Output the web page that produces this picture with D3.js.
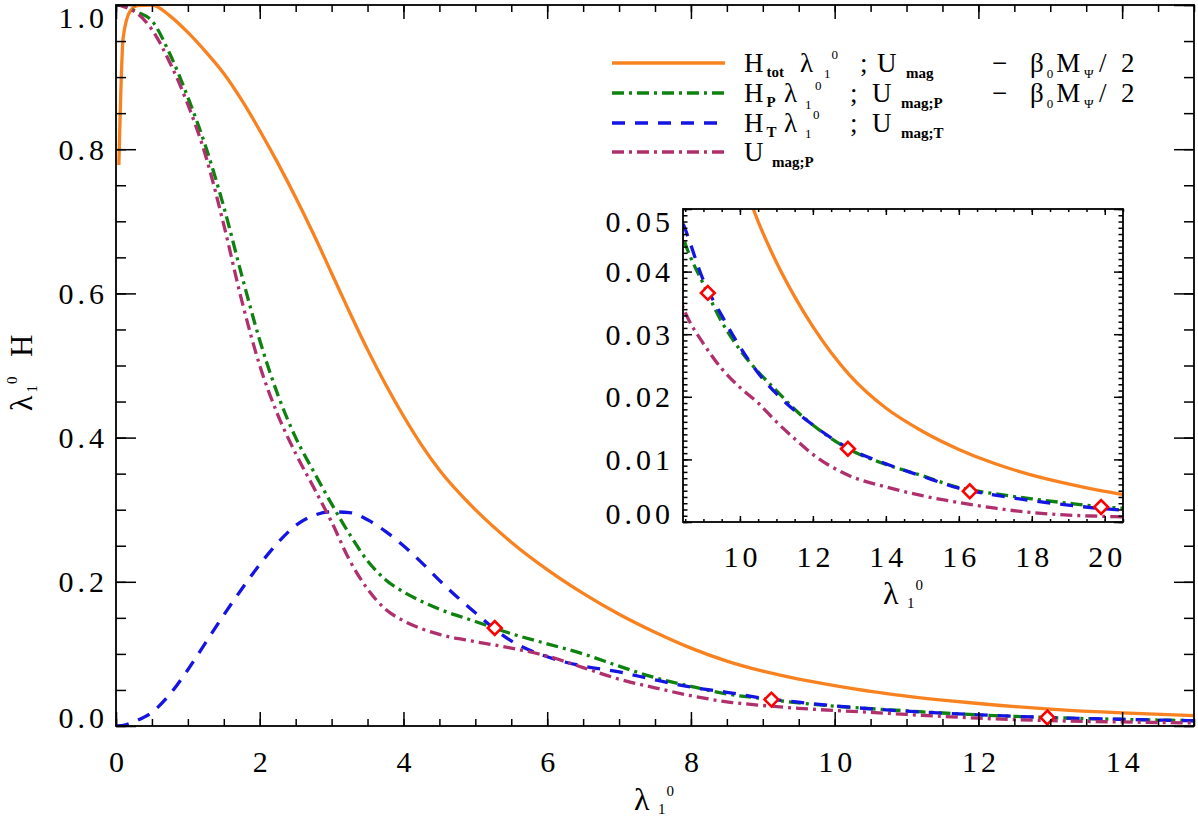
<!DOCTYPE html>
<html><head><meta charset="utf-8">
<script src="https://cdn.jsdelivr.net/npm/d3@7"></script>
<style>
body{margin:0;background:#fff;}
svg{display:block;}
text{font-family:"Liberation Serif","Times New Roman",serif;fill:#000;}
</style></head><body>
<svg id="c" width="1198" height="818"></svg>
<script>
// ---------------- data ----------------
const lambda = [0, 0.04, 0.1, 0.2, 0.3, 0.5, 0.75, 1.0, 1.25, 1.5, 1.75, 2.0, 2.25, 2.5, 2.75, 3.0, 3.25, 3.5, 3.75, 4.0, 4.25, 4.5, 5.0, 5.5, 6.0, 6.5, 7.0, 7.5, 8.0, 8.5, 9.0, 9.5, 10, 10.5, 11, 11.5, 12, 13, 14, 15, 16, 17, 18, 19, 20, 20.5];
const Htot = [null, 0.778, 0.955, 0.992, 0.999, 1.0, 0.985, 0.962, 0.935, 0.905, 0.868, 0.826, 0.781, 0.733, 0.682, 0.628, 0.574, 0.522, 0.474, 0.43, 0.39, 0.355, 0.3, 0.255, 0.217, 0.184, 0.155, 0.13, 0.108, 0.09, 0.076, 0.065, 0.056, 0.048, 0.0415, 0.036, 0.0312, 0.0235, 0.0182, 0.0145, 0.0116, 0.0093, 0.0075, 0.0061, 0.0049, 0.0044];
const HP = [1.0, 1.0, 0.999, 0.995, 0.99, 0.978, 0.932, 0.872, 0.803, 0.72, 0.625, 0.535, 0.46, 0.4, 0.353, 0.308, 0.266, 0.229, 0.203, 0.186, 0.173, 0.162, 0.145, 0.128, 0.114, 0.1, 0.083, 0.067, 0.055, 0.0445, 0.038, 0.032, 0.0275, 0.024, 0.021, 0.018, 0.0155, 0.0116, 0.0092, 0.0074, 0.0055, 0.0045, 0.0037, 0.003, 0.0024, 0.0022];
const HT = [0, 0.0003, 0.001, 0.004, 0.008, 0.019, 0.044, 0.078, 0.116, 0.154, 0.19, 0.224, 0.254, 0.278, 0.292, 0.297, 0.296, 0.286, 0.27, 0.25, 0.227, 0.202, 0.157, 0.118, 0.096, 0.083, 0.075, 0.064, 0.054, 0.0468, 0.0386, 0.033, 0.028, 0.0238, 0.0205, 0.0178, 0.0155, 0.0117, 0.0093, 0.0073, 0.0054, 0.0043, 0.0034, 0.0027, 0.0021, 0.0019];
const UmagP = [1.0, 1.0, 0.998, 0.994, 0.988, 0.966, 0.92, 0.862, 0.79, 0.695, 0.59, 0.5, 0.432, 0.378, 0.331, 0.283, 0.23, 0.19, 0.162, 0.146, 0.135, 0.127, 0.117, 0.108, 0.097, 0.081, 0.065, 0.053, 0.042, 0.0335, 0.0285, 0.0245, 0.0215, 0.019, 0.016, 0.0133, 0.0108, 0.0074, 0.0056, 0.0042, 0.0031, 0.0022, 0.0015, 0.0011, 0.0009, 0.0008];
const markLambda = [5.27, 9.12, 12.96, 16.3, 19.9];
const markValue = [0.136, 0.0366, 0.0117, 0.0049, 0.0024];

const mainXTicks = [0, 2, 4, 6, 8, 10, 12, 14];
const mainYTicks = [0.0, 0.2, 0.4, 0.6, 0.8, 1.0];
const insetXTicks = [10, 12, 14, 16, 18, 20];
const insetYTicks = [0.00, 0.01, 0.02, 0.03, 0.04, 0.05];

// ---------------- setup ----------------
const svg = d3.select("#c");
const FONT = '"Liberation Serif", serif';
const series = [
  {vals: Htot, color: "#F8821F", dash: null},
  {vals: HP, color: "#0E820E", dash: "12,5,3,5"},
  {vals: HT, color: "#1414E4", dash: "13,10"},
  {vals: UmagP, color: "#B0306E", dash: "12,5,3,5"}
];

const MB = {l:116, r:1194, t:5, b:726};
const IB = {l:683, r:1123, t:209, b:522};
const x = d3.scaleLinear().domain([0,15]).range([MB.l, MB.r]);
const y = d3.scaleLinear().domain([0,1]).range([MB.b, MB.t]);
const xi = d3.scaleLinear().domain([8.44,20.5]).range([IB.l, IB.r]);
const yi = d3.scaleLinear().domain([0,0.05]).range([IB.b, IB.t]);

const defs = svg.append("defs");
function clip(id, b){
  defs.append("clipPath").attr("id", id).append("rect")
    .attr("x", b.l).attr("y", b.t).attr("width", b.r-b.l).attr("height", b.b-b.t);
}
clip("cm", MB); clip("ci", IB);

function panel(xs, ys, b, clipId, cfg){
  const g = svg.append("g");
  g.append("rect").attr("x", b.l).attr("y", b.t).attr("width", b.r-b.l).attr("height", b.b-b.t).attr("fill", "#fff");
  const pg = g.append("g").attr("clip-path", `url(#${clipId})`);
  series.forEach(s => {
    const pts = lambda.map((l,i) => [l, s.vals[i]]);
    const line = d3.line().defined(d => d[1] != null)
      .x(d => xs(d[0])).y(d => ys(d[1])).curve(d3.curveMonotoneX);
    pg.append("path").attr("d", line(pts)).attr("fill", "none")
      .attr("stroke", s.color).attr("stroke-width", 3.3)
      .attr("stroke-dasharray", s.dash);
  });
  const dom = xs.domain();
  const sym = d3.symbol(d3.symbolSquare, 95);
  markLambda.forEach((l,i) => {
    if (l < dom[0] || l > dom[1]) return;
    pg.append("path").attr("d", sym())
      .attr("transform", `translate(${xs(l)},${ys(markValue[i])}) rotate(45)`)
      .attr("fill", "#fff").attr("stroke", "#f00").attr("stroke-width", 2.6);
  });

  const style = sel => {
    sel.select(".domain").remove();
    sel.selectAll("line").attr("stroke", "#000").attr("stroke-width", 1.5);
    sel.attr("font-family", FONT).attr("font-size", cfg.fs);
    sel.selectAll("text").attr("letter-spacing", cfg.ls);
  };
  g.append("g").attr("transform", `translate(0,${b.b})`)
    .call(d3.axisBottom(xs).tickValues(cfg.xMin).tickSizeInner(-cfg.xLen/2).tickSizeOuter(0).tickFormat("")).call(style);
  const bx = g.append("g").attr("transform", `translate(0,${b.b})`)
    .call(d3.axisBottom(xs).tickValues(cfg.xMaj).tickSizeInner(-cfg.xLen).tickSizeOuter(0).tickFormat(cfg.xFmt)).call(style);
  bx.selectAll("text").attr("y", cfg.xBase).attr("dy", 0).attr("dx", cfg.ls/2).attr("fill", "#000");
  g.append("g").attr("transform", `translate(0,${b.t})`)
    .call(d3.axisTop(xs).tickValues(cfg.xMin).tickSizeInner(-cfg.xLen/2).tickSizeOuter(0).tickFormat("")).call(style);
  g.append("g").attr("transform", `translate(0,${b.t})`)
    .call(d3.axisTop(xs).tickValues(cfg.xMaj).tickSizeInner(-cfg.xLen).tickSizeOuter(0).tickFormat("")).call(style);
  g.append("g").attr("transform", `translate(${b.l},0)`)
    .call(d3.axisLeft(ys).tickValues(cfg.yMin).tickSizeInner(-cfg.yLen/2).tickSizeOuter(0).tickFormat("")).call(style);
  const ly = g.append("g").attr("transform", `translate(${b.l},0)`)
    .call(d3.axisLeft(ys).tickValues(cfg.yMaj).tickSizeInner(-cfg.yLen).tickSizeOuter(0).tickPadding(cfg.yPad).tickFormat(cfg.yFmt)).call(style);
  ly.selectAll("text").attr("fill", "#000").attr("dy", d => {
    const ty = ys(d);
    const base = Math.max(b.t + 22, Math.min(b.b + 1, ty + 10));
    return base - ty;
  });
  g.append("g").attr("transform", `translate(${b.r},0)`)
    .call(d3.axisRight(ys).tickValues(cfg.yMin).tickSizeInner(-cfg.yLen/2).tickSizeOuter(0).tickFormat("")).call(style);
  g.append("g").attr("transform", `translate(${b.r},0)`)
    .call(d3.axisRight(ys).tickValues(cfg.yMaj).tickSizeInner(-cfg.yLen).tickSizeOuter(0).tickFormat("")).call(style);
  g.append("rect").attr("x", b.l).attr("y", b.t).attr("width", b.r-b.l).attr("height", b.b-b.t)
    .attr("fill", "none").attr("stroke", "#000").attr("stroke-width", 1.8);
  return g;
}

panel(x, y, MB, "cm", {
  xMaj: mainXTicks, xMin: d3.range(0, 15.001, 0.5), xLen: 14, xFmt: d3.format("d"), xBase: 46,
  yMaj: mainYTicks, yMin: d3.range(0, 1.0001, 0.05), yLen: 20, yFmt: d3.format(".1f"), yPad: 8, fs: 30, ls: 4
});
panel(xi, yi, IB, "ci", {
  xMaj: insetXTicks, xMin: d3.range(8.5, 20.5001, 0.5), xLen: 6, xFmt: d3.format("d"), xBase: 45,
  yMaj: insetYTicks, yMin: d3.range(0, 0.05001, 0.001), yLen: 9, yFmt: d3.format(".2f"), yPad: 9, fs: 30, ls: 4
});

// ---------------- text helpers ----------------
function tok(g, s, xx, yy, fs, weight){
  return g.append("text").attr("x", xx).attr("y", yy).attr("font-size", fs)
    .attr("font-weight", weight || "normal").text(s);
}
// tokens: [text, refX, dy, fontSize, kind, weight]
// kind: 'n' normal glyph, 's' script after a normal glyph, 'f' script following the previous script
function layoutRow(g, tokens, base){
  let mainEnd = -1e9, fullEnd = -1e9;
  tokens.forEach(t => {
    const [s, refX, dy, fs, kind, weight] = t;
    let xx;
    if (kind === "s") xx = Math.max(refX, mainEnd + 3);
    else if (kind === "f") xx = Math.max(refX, fullEnd + 1);
    else xx = Math.max(refX, fullEnd + 3);
    const el = tok(g, s, xx, base + dy, fs, weight);
    const w = el.node().getComputedTextLength();
    if (kind === "n") mainEnd = xx + w;
    fullEnd = Math.max(fullEnd, xx + w);
  });
}

// axis titles
function lambdaTitle(cx, base){
  const g = svg.append("g");
  layoutRow(g, [["λ", cx - 21, 0, 32, "n"], ["1", cx + 3, 4, 15, "s"], ["0", cx + 11, -14, 15, "f"]], base);
}
lambdaTitle(655, 810);
lambdaTitle(904, 604);
{
  const g = svg.append("g").attr("transform", "translate(32,365) rotate(-90)");
  layoutRow(g, [["λ", -46, 0, 32, "n"], ["1", -28, 5, 15, "s"], ["0", -26, -15, 15, "f"], ["H", 8, 0, 31, "n"]], 0);
}

// ---------------- legend ----------------
const BIG = 27, SUB = 15, SUP = 13;
const lg = svg.append("g");
const tail = [["−",992,0,BIG,"n"],["β",1030,0,BIG,"n"],["0",1046,6,SUP,"s"],["M",1056,0,BIG,"n"],["Ψ",1084,6,SUP,"s"],["/",1099,0,BIG,"n"],["2",1121,0,BIG,"n"]];
const rows = [
  {base: 72, tokens: [["H",744,0,BIG,"n"],["tot",763,5,SUB,"s","bold"],["λ",800,0,BIG,"n"],["1",824,6,SUP,"s"],["0",830,-13,SUP,"f"],[";",860,0,BIG,"n"],["U",877,0,BIG,"n"],["mag",906,6,SUB,"s","bold"]].concat(tail)},
  {base: 102, tokens: [["H",744,0,BIG,"n"],["P",763,5,SUB,"s","bold"],["λ",784,0,BIG,"n"],["1",805,7,SUP,"s"],["0",815,-12,SUP,"f"],[";",850,0,BIG,"n"],["U",872,0,BIG,"n"],["mag;P",901,6,SUB,"s","bold"]].concat(tail)},
  {base: 132, tokens: [["H",744,0,BIG,"n"],["T",763,5,SUB,"s","bold"],["λ",784,0,BIG,"n"],["1",805,6,SUP,"s"],["0",813,-13,SUP,"f"],[";",850,0,BIG,"n"],["U",872,0,BIG,"n"],["mag;T",901,6,SUB,"s","bold"]]},
  {base: 161, tokens: [["U",744,0,BIG,"n"],["mag;P",772,6,SUB,"s","bold"]]}
];
rows.forEach((r,i) => {
  const s = series[i];
  lg.append("line").attr("x1", 612).attr("x2", 725).attr("y1", r.base - 9).attr("y2", r.base - 9)
    .attr("stroke", s.color).attr("stroke-width", 3.3).attr("stroke-dasharray", s.dash);
  layoutRow(lg, r.tokens, r.base);
});
</script></body></html>
